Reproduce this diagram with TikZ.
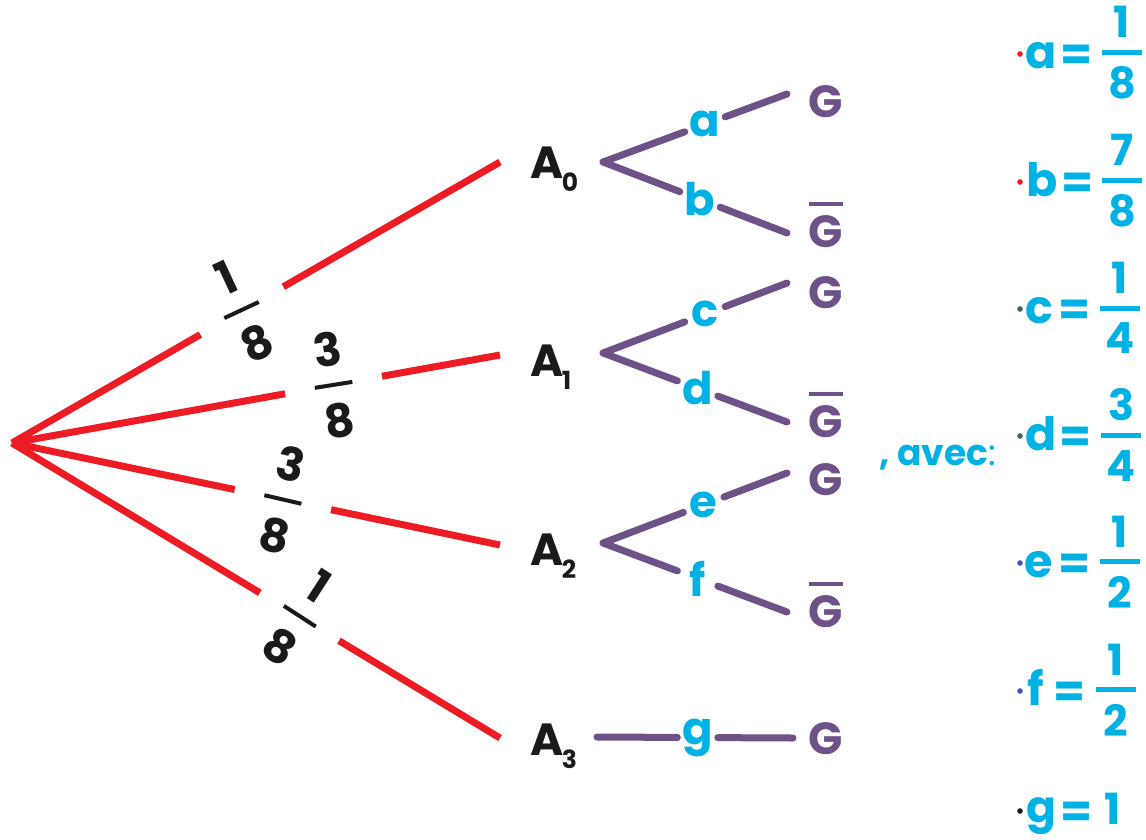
\documentclass[tikz,border=0pt]{standalone}
\usepackage{fontspec}
\setmainfont{Poppins}
\usetikzlibrary{calc}

\definecolor{treered}{HTML}{ED1C24}
\definecolor{treepurple}{HTML}{6D5187}
\definecolor{probcyan}{HTML}{00B2E3}
\definecolor{inkblack}{HTML}{1A1A1A}
\definecolor{dotgreen}{HTML}{3B6B3F}
\definecolor{dotblue}{HTML}{3A5DAE}

% vertical fraction: gap, bar width, bar thickness, numerator, denominator
\newcommand\stackedfrac[5]{%
  \vbox{\hbox to #2{\hss#4\hss}\kern#1\hrule height #3\kern#1\hbox to #2{\hss#5\hss}}}
% G with a bar over it (complementary event)
\newcommand\overG{\vbox{\hrule height 4pt\kern 9.5pt\hbox{G}}}
% event name with a lowered index
\newcommand\eventname[1]{A\kern-1.5pt\raisebox{-13pt}{\fontsize{25}{25}\selectfont #1}}

\tikzset{
  redbranch/.style={draw=treered, line width=7pt},
  purplebranch/.style={draw=treepurple, line width=7pt, line cap=round},
  firstprob/.style={inner sep=0pt, text=inkblack,
    font=\bfseries\fontsize{46}{46}\selectfont},
  event/.style={anchor=base west, inner sep=0pt, text=inkblack,
    font=\bfseries\fontsize{45}{45}\selectfont},
  outcome/.style={inner sep=0pt, text=treepurple,
    font=\bfseries\fontsize{45}{45}\selectfont},
  branchlabel/.style={inner sep=0pt, minimum width=40pt, text=probcyan,
    font=\bfseries\fontsize{45}{45}\selectfont},
  valname/.style={anchor=base, inner sep=0pt, text=probcyan,
    font=\bfseries\fontsize{46}{46}\selectfont},
  valeq/.style={inner sep=0pt, text=probcyan,
    font=\bfseries\fontsize{46}{46}\selectfont},
  valfrac/.style={inner sep=0pt, text=probcyan,
    font=\bfseries\fontsize{43}{43}\selectfont},
}

\begin{document}
\begin{tikzpicture}[x=1pt,y=-1pt]
\useasboundingbox (0,0) rectangle (1146,839);

% ---------- first level ----------
\coordinate (root) at (12,443);
\coordinate (r0) at (500,162);
\coordinate (r1) at (500,355);
\coordinate (r2) at (500,545);
\coordinate (r3) at (500,738);

\node[firstprob, rotate=25, minimum width=95pt] (p0)
  at ($(root)!0.471!(r0)$) {\stackedfrac{17pt}{38pt}{4pt}{1}{8}};
\node[firstprob, rotate=9, minimum width=98pt] (p1)
  at ($(root)!0.659!(r1)$) {\stackedfrac{17pt}{38pt}{4pt}{3}{8}};
\node[firstprob, rotate=-13, minimum width=98pt] (p2)
  at ($(root)!0.555!(r2)$) {\stackedfrac{17pt}{38pt}{4pt}{3}{8}};
\node[firstprob, rotate=-33, minimum width=92pt] (p3)
  at ($(root)!0.589!(r3)$) {\stackedfrac{17pt}{38pt}{4pt}{1}{8}};

\foreach \i in {0,1,2,3}{
  \draw[redbranch] (root) -- (p\i);
  \draw[redbranch] (p\i) -- (r\i);
}

\node[event] (A0) at (530,178) {\eventname{0}};
\node[event] (A1) at (530,376) {\eventname{1}};
\node[event] (A2) at (530,565) {\eventname{2}};
\node[event] (A3) at (530,755) {\eventname{3}};

% ---------- second level ----------
\coordinate (s0) at (603,162);
\coordinate (u0) at (787,94);
\coordinate (l0) at (787,233);
\coordinate (s1) at (603,353);
\coordinate (u1) at (787,283);
\coordinate (l1) at (787,422);
\coordinate (s2) at (603,543);
\coordinate (u2) at (787,473);
\coordinate (l2) at (787,612);
\coordinate (s3) at (597,737);
\coordinate (e3) at (793,738);

\node[branchlabel] (ba) at ($(s0)!0.554!(u0)$) {a};
\node[branchlabel] (bb) at ($(s0)!0.527!(l0)$) {b};
\node[branchlabel] (bc) at ($(s1)!0.554!(u1)$) {c};
\node[branchlabel] (bd) at ($(s1)!0.514!(l1)$) {d};
\node[branchlabel] (be) at ($(s2)!0.547!(u2)$) {e};
\node[branchlabel] (bf) at ($(s2)!0.514!(l2)$) {f};
\node[branchlabel] (bg) at ($(s3)!0.513!(e3)$) {g};

\draw[purplebranch] (s0) -- (ba);  \draw[purplebranch] (ba) -- (u0);
\draw[purplebranch] (s0) -- (bb);  \draw[purplebranch] (bb) -- (l0);
\draw[purplebranch] (s1) -- (bc);  \draw[purplebranch] (bc) -- (u1);
\draw[purplebranch] (s1) -- (bd);  \draw[purplebranch] (bd) -- (l1);
\draw[purplebranch] (s2) -- (be);  \draw[purplebranch] (be) -- (u2);
\draw[purplebranch] (s2) -- (bf);  \draw[purplebranch] (bf) -- (l2);
\draw[purplebranch] (s3) -- (bg);  \draw[purplebranch] (bg) -- (e3);

\node[outcome] (G0)  at (826,102) {G};
\node[outcome] (H0)  at (826,225) {\overG};
\node[outcome] (G1)  at (826,293) {G};
\node[outcome] (H1)  at (826,415) {\overG};
\node[outcome] (G2)  at (826,480) {G};
\node[outcome] (H2)  at (826,605) {\overG};
\node[outcome] (G3)  at (826,739) {G};

% ---------- values of the conditional probabilities ----------
\node[anchor=base west, inner sep=0pt, text=probcyan,
      font=\bfseries\fontsize{36}{36}\selectfont] (avec) at (879,465)
      {, avec{\mdseries:}};

\foreach \yy/\nm/\nu/\de/\dc/\lx/\ex/\fx in {
    54/a/1/8/treered/1041/1076/1122,
    182/b/7/8/treered/1042/1077/1122,
    309/c/1/4/dotgreen/1039/1074/1120,
    436/d/3/4/dotgreen/1041/1075/1121,
    563/e/1/2/dotblue/1039/1074/1120,
    691/f/1/2/dotblue/1036/1069/1116}{
  \fill[\dc] (1020,\yy) circle (2.8);
  \node[valname] (n\nm) at (\lx,\yy+14) {\nm};
  \node[valeq] (q\nm) at (\ex,\yy+3.5) {=};
  \node[valfrac] (v\nm) at (\fx,\yy-1) {\stackedfrac{12pt}{40pt}{5pt}{\nu}{\de}};
}
\fill[inkblack] (1020,811) circle (2.8);
\node[valname, font=\bfseries\fontsize{44}{44}\selectfont] (ng) at (1041,822) {g};
\node[valeq] (qg) at (1076,815) {=};
\node[valfrac] (vg) at (1113,809) {1};
\end{tikzpicture}
\end{document}
